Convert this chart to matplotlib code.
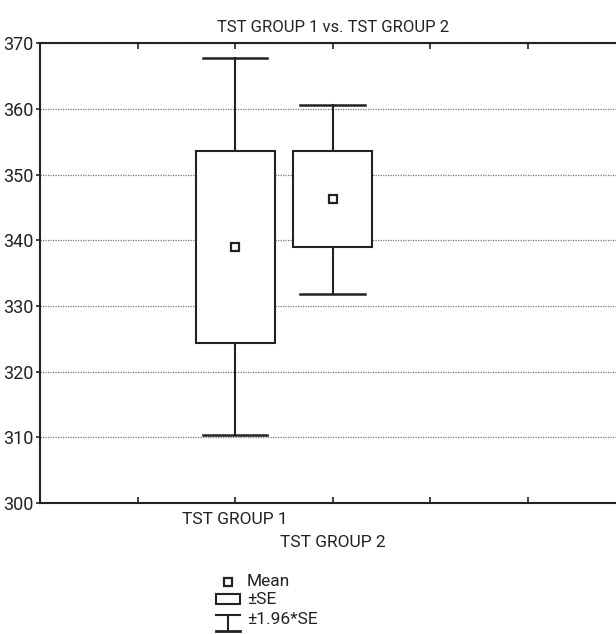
import numpy as np
import matplotlib.pyplot as plt
from matplotlib.patches import Rectangle
from matplotlib.transforms import blended_transform_factory

plt.rcParams['font.family'] = ['Roboto', 'DejaVu Sans']

groups = ['TST GROUP 1', 'TST GROUP 2']
positions = [2, 3]
means = [339.0, 346.3]
se = [14.65, 7.35]
k = 1.96

fig = plt.figure(figsize=(6.16, 6.34), dpi=100)
ax = fig.add_axes([0.065, 0.2066, 0.95, 0.7248])

box_w = 0.81
cap_w = 0.66
for x, m, s in zip(positions, means, se):
    lo, hi = m - s, m + s
    wlo, whi = m - k * s, m + k * s
    ax.plot([x, x], [hi, whi], color='#222222', lw=1.5, zorder=3)
    ax.plot([x, x], [wlo, lo], color='#222222', lw=1.5, zorder=3)
    ax.plot([x - cap_w / 2, x + cap_w / 2], [whi, whi], color='#222222', lw=1.8, zorder=3)
    ax.plot([x - cap_w / 2, x + cap_w / 2], [wlo, wlo], color='#222222', lw=1.8, zorder=3)
    ax.add_patch(Rectangle((x - box_w / 2, lo), box_w, hi - lo, facecolor='white',
                           edgecolor='#222222', lw=1.5, zorder=3))
    ax.plot(x, m, marker='s', ms=5.5, mfc='white', mec='#222222', mew=1.6, zorder=4)

ax.set_xlim(0, 6)
ax.set_ylim(300, 370)
ax.set_yticks(np.arange(300, 371, 10))
ax.set_xticks([1, 2, 3, 4, 5])
ax.set_xticklabels([])
ax.tick_params(axis='x', direction='in', top=True, length=4, width=1.2, color='#222222')
ax.tick_params(axis='y', direction='out', length=3, width=1.2, labelsize=13, pad=2,
               color='#222222', labelcolor='#222222')
ax.grid(axis='y', linestyle=(0, (1, 1)), color='#777777', lw=0.9)
for sp in ax.spines.values():
    sp.set_linewidth(1.5)
    sp.set_color('#222222')

ax.set_title('TST GROUP 1 vs. TST GROUP 2', fontsize=12, pad=8, color='#222222')

tr = blended_transform_factory(ax.transData, ax.transAxes)
ax.text(positions[0], -0.02, groups[0], transform=tr, ha='center', va='top', fontsize=12.5, color='#222222')
ax.text(positions[1], -0.069, groups[1], transform=tr, ha='center', va='top', fontsize=12.5, color='#222222')

# legend drawn in pixel units
lg = fig.add_axes([210 / 616, 0, 250 / 616, 64 / 634])
lg.set_xlim(210, 460)
lg.set_ylim(634, 570)
lg.axis('off')
lg.plot(228, 582, marker='s', ms=5.5, mfc='white', mec='#222222', mew=1.6)
lg.text(247, 582, 'Mean', va='center', fontsize=12.5, color='#222222')
lg.add_patch(Rectangle((216, 594), 24, 10, facecolor='white', edgecolor='#222222', lw=1.5))
lg.text(247, 600, '±SE', va='center', fontsize=12.5, color='#222222')
lg.plot([216, 240], [615, 615], color='#222222', lw=1.5)
lg.plot([228, 228], [615, 631], color='#222222', lw=1.5)
lg.plot([216, 240], [631, 631], color='#222222', lw=2)
lg.text(247, 620, '±1.96*SE', va='center', fontsize=12.5, color='#222222')

fig.savefig('out.png', dpi=100)
